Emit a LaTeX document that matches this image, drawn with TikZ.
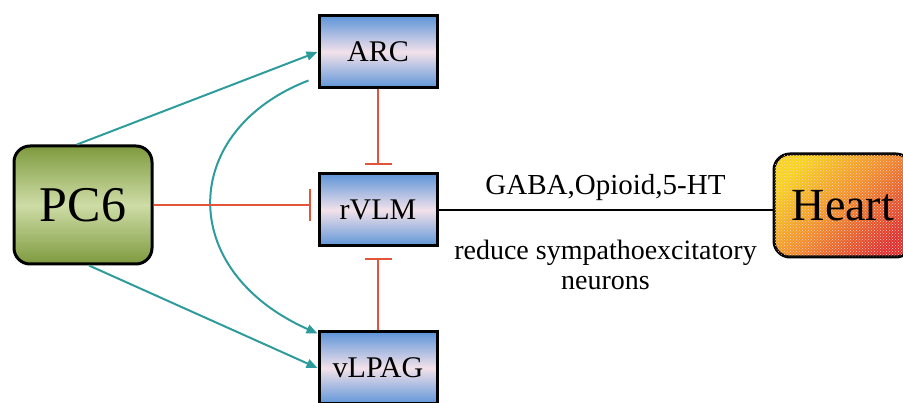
\documentclass[tikz,border=0pt]{standalone}
\usepackage{fontspec}
\setmainfont{Liberation Serif}
\usetikzlibrary{arrows.meta}
\usetikzlibrary{calc}
\usetikzlibrary{patterns}
\usepackage{xcolor}

\definecolor{boxblue}{HTML}{5E95D8}
\definecolor{boxpink}{HTML}{F3E1EA}
\definecolor{olivedk}{HTML}{7E9A3E}
\definecolor{olivelt}{HTML}{CEDCA6}
\definecolor{heartyel}{HTML}{F6D619}
\definecolor{heartorg}{HTML}{F08A28}
\definecolor{heartred}{HTML}{DC2F2C}
\definecolor{tealarr}{HTML}{2E9C9C}
\definecolor{redinh}{HTML}{E2553A}

\tikzset{
  region/.style={draw=black, line width=3pt, minimum width=118pt, minimum height=72pt,
    top color=boxblue, bottom color=boxblue, middle color=boxpink, font=\fontsize{30}{30}\selectfont},
  acupt/.style={draw=black, line width=3pt, rounded corners=16pt, minimum width=138pt, minimum height=118pt,
    top color=olivedk, bottom color=olivedk, middle color=olivelt, font=\fontsize{50}{50}\selectfont},
  organ/.style={draw=black, line width=3pt, rounded corners=16pt, minimum width=138pt, minimum height=103pt,
    top color=heartyel, bottom color=heartred, middle color=heartorg, shading angle=45,
    postaction={pattern=crosshatch dots, pattern color=white!80!red},
    font=\fontsize{46}{46}\selectfont, text depth=0pt},
  excite/.style={draw=tealarr, line width=2pt, -{Triangle[length=11pt,width=9pt]}},
  inhibit/.style={draw=redinh, line width=1.5pt},
}

\begin{document}
\begin{tikzpicture}[x=1pt,y=-1pt]

      \useasboundingbox (0,0) rectangle (903,403);

      % Boxes
      \node[acupt]  (pc6)   at (83,205)  {PC6};
      \node[region] (arc)   at (378,52)  {ARC};
      \node[region] (rvlm)  at (378,210) {rVLM};
      \node[region] (vlpag) at (378,368) {vLPAG};
      \node[organ]  (heart) at (843,205.5) {Heart};

      % Exciting paths
      \draw[excite] ($(pc6.north)+(-6,0)$) -- (arc.west);
      \draw[excite] ($(pc6.south)+(6,0)$) -- (vlpag.west);
      \coordinate (arcout) at ($(arc.south west)+(-9,-9)$);
      \draw[excite] (arcout) .. controls (180,130) and (175,270) .. ($(vlpag.north west)+(0,3)$);

      % Inhibiting paths
      \draw[inhibit, -{Bar[width=32pt]}, shorten >=7pt] (pc6.east) -- (rvlm.west |- pc6.east);
      \draw[inhibit, -{Bar[width=27pt]}, shorten >=7.5pt] (arc.south) -- (rvlm.north);
      \draw[inhibit, -{Bar[width=27pt]}, shorten >=11pt] (vlpag.north) -- (rvlm.south);

      % Output to heart
      \draw[line width=1.3pt] (rvlm.east) -- (heart.west |- rvlm.east)
        node[midway, above=5pt, font=\fontsize{29}{29}\selectfont] (trans) {GABA,Opioid,5-HT}
        node[midway, below=26pt, align=center, font=\fontsize{28}{30}\selectfont] (effect) {reduce sympathoexcitatory\\neurons};

\end{tikzpicture}
\end{document}
